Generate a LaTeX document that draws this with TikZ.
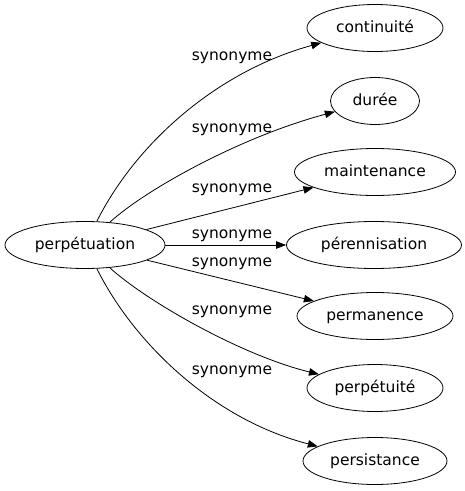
\documentclass[tikz,border=0pt]{standalone}
\usepackage{fontspec}
\setmainfont{DejaVu Sans}
\usetikzlibrary{shapes.geometric,arrows.meta}
\begin{document}
\begin{tikzpicture}[x=1pt, y=-1pt,
    word/.style = {ellipse, draw, line width=0.8pt, inner sep=0pt, minimum height=47pt,
        font=\fontsize{15.5}{18}\selectfont, text height=11pt, text depth=2.6pt},
    rel/.style = {font=\fontsize{15.5}{18}\selectfont, text height=11pt, text depth=2.6pt, inner sep=0pt},
    syn/.style = {line width=0.8pt, -{Triangle[length=10pt, width=7.5pt]}}]
            \useasboundingbox (0, 0) rectangle (465, 491);
            \draw (85, 245)node(perp)[word, minimum width = 160pt]{perpétuation};
            \draw (375, 28)node(cont)[word, minimum width = 136pt]{continuité};
            \draw (375, 101)node(duree)[word, minimum width = 89pt]{durée};
            \draw (375, 172)node(maint)[word, minimum width = 161pt]{maintenance};
            \draw (374, 245)node(peren)[word, minimum width = 175pt]{pérennisation};
            \draw (375, 316)node(perma)[word, minimum width = 156pt]{permanence};
            \draw (375, 388)node(perpe)[word, minimum width = 136pt]{perpétuité};
            \draw (375, 461)node(persi)[word, minimum width = 144pt]{persistance};
            \draw (perp) .. controls (135, 145) and (215, 72) .. (cont)[syn];
            \draw (perp) .. controls (145, 190) and (240, 137) .. (duree)[syn];
            \draw (perp)--(maint)[syn];
            \draw (perp)--(peren)[syn];
            \draw (perp)--(perma)[syn];
            \draw (perp) .. controls (145, 300) and (240, 355) .. (perpe)[syn];
            \draw (perp) .. controls (135, 345) and (215, 420) .. (persi)[syn];
            \draw (232, 56)node(l1)[rel]{synonyme};
            \draw (232, 128)node(l2)[rel]{synonyme};
            \draw (232, 188)node(l3)[rel]{synonyme};
            \draw (232, 234)node(l4)[rel]{synonyme};
            \draw (232, 262)node(l5)[rel]{synonyme};
            \draw (232, 310)node(l6)[rel]{synonyme};
            \draw (232, 370)node(l7)[rel]{synonyme};
        \end{tikzpicture}
\end{document}
